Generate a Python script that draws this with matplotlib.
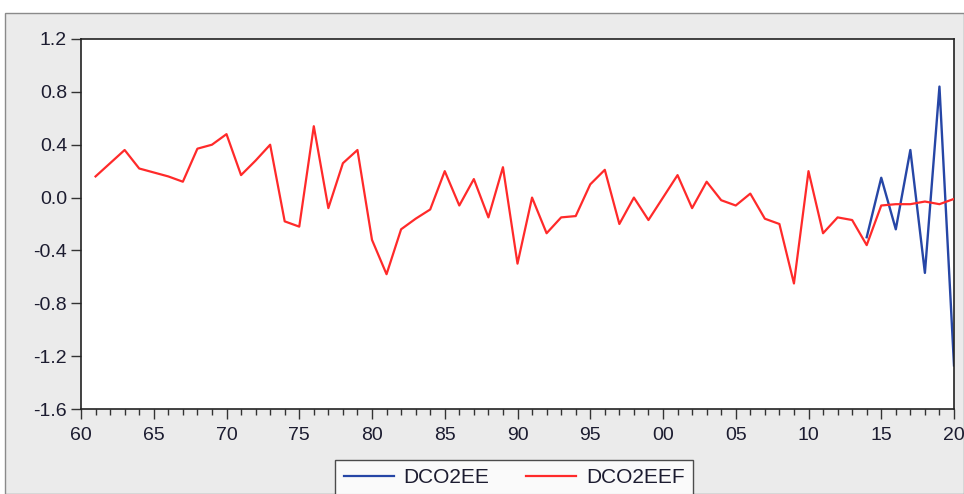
import matplotlib
matplotlib.use("Agg")
import matplotlib.pyplot as plt
from matplotlib.ticker import MultipleLocator, FixedLocator
from matplotlib.patches import Rectangle
from matplotlib.lines import Line2D

# Series values
years_f = list(range(1961, 2021))
dco2eef = [0.16, 0.26, 0.36, 0.22, 0.19, 0.16, 0.12, 0.37, 0.40, 0.48,
           0.17, 0.28, 0.40, -0.18, -0.22, 0.54, -0.08, 0.26, 0.36, -0.32,
           -0.58, -0.24, -0.16, -0.09, 0.20, -0.06, 0.14, -0.15, 0.23, -0.50,
           0.00, -0.27, -0.15, -0.14, 0.10, 0.21, -0.20, 0.00, -0.17, 0.00,
           0.17, -0.08, 0.12, -0.02, -0.06, 0.03, -0.16, -0.20, -0.65, 0.20,
           -0.27, -0.15, -0.17, -0.36, -0.06, -0.05, -0.05, -0.03, -0.05, -0.01]
years_e = list(range(2014, 2021))
dco2ee = [-0.30, 0.15, -0.24, 0.36, -0.57, 0.84, -1.27]

x_ticks = list(range(1960, 2021, 5))
x_labels = ["60", "65", "70", "75", "80", "85", "90", "95", "00", "05", "10", "15", "20"]
y_ticks = [-1.6, -1.2, -0.8, -0.4, 0.0, 0.4, 0.8, 1.2]

plt.rcParams['font.family'] = ['Liberation Sans', 'DejaVu Sans']

W, H = 964, 494
fig = plt.figure(figsize=(W / 100, H / 100), dpi=100)
fig.patch.set_facecolor("white")

# grey graph frame below the white strip at the top
bg = Rectangle((5 / W, 0), 1 - 5 / W, 1 - 13 / H, transform=fig.transFigure,
               facecolor="#ebebeb", edgecolor="#8a8a8a", linewidth=1.0, zorder=-10)
fig.patches.append(bg)

ax = fig.add_axes([81 / W, 1 - 409 / H, (954 - 81) / W, (409 - 39) / H])
ax.set_facecolor("white")

blue = "#2646a6"
red = "#ff2a2a"
ax.plot(years_e, dco2ee, color=blue, lw=1.7, zorder=2)
ax.plot(years_f, dco2eef, color=red, lw=1.6, zorder=3)

ax.set_xlim(1960, 2020)
ax.set_ylim(-1.6, 1.2)
ax.xaxis.set_major_locator(FixedLocator(x_ticks))
ax.set_xticklabels(x_labels)
ax.xaxis.set_minor_locator(MultipleLocator(1))
ax.set_yticks(y_ticks)
ax.set_yticklabels([f"{v:.1f}" for v in y_ticks])

ax.tick_params(axis="both", which="major", direction="out", length=7, width=1.0,
               colors="#333333", labelcolor="#1c1c30", labelsize=14)
ax.tick_params(axis="x", which="minor", direction="out", length=4, width=1.0,
               colors="#333333")
ax.tick_params(axis="x", pad=6)
ax.tick_params(axis="y", pad=3)
for s in ax.spines.values():
    s.set_color("#222222")
    s.set_linewidth(1.2)

handles = [Line2D([], [], color=blue, lw=1.6), Line2D([], [], color=red, lw=1.6)]
leg = fig.legend(handles, ["DCO2EE", "DCO2EEF"], loc="upper center",
                 bbox_to_anchor=(514 / W, 1 - 460 / H), ncol=2, frameon=True,
                 fancybox=False, fontsize=15, handlelength=2.4, columnspacing=1.8,
                 handletextpad=0.45, borderpad=0.4, borderaxespad=0)
leg.get_frame().set_edgecolor("#222222")
leg.get_frame().set_linewidth(1.0)
for t in leg.get_texts():
    t.set_color("#1c1c30")

fig.savefig("out.png", dpi=100, facecolor=fig.get_facecolor())
